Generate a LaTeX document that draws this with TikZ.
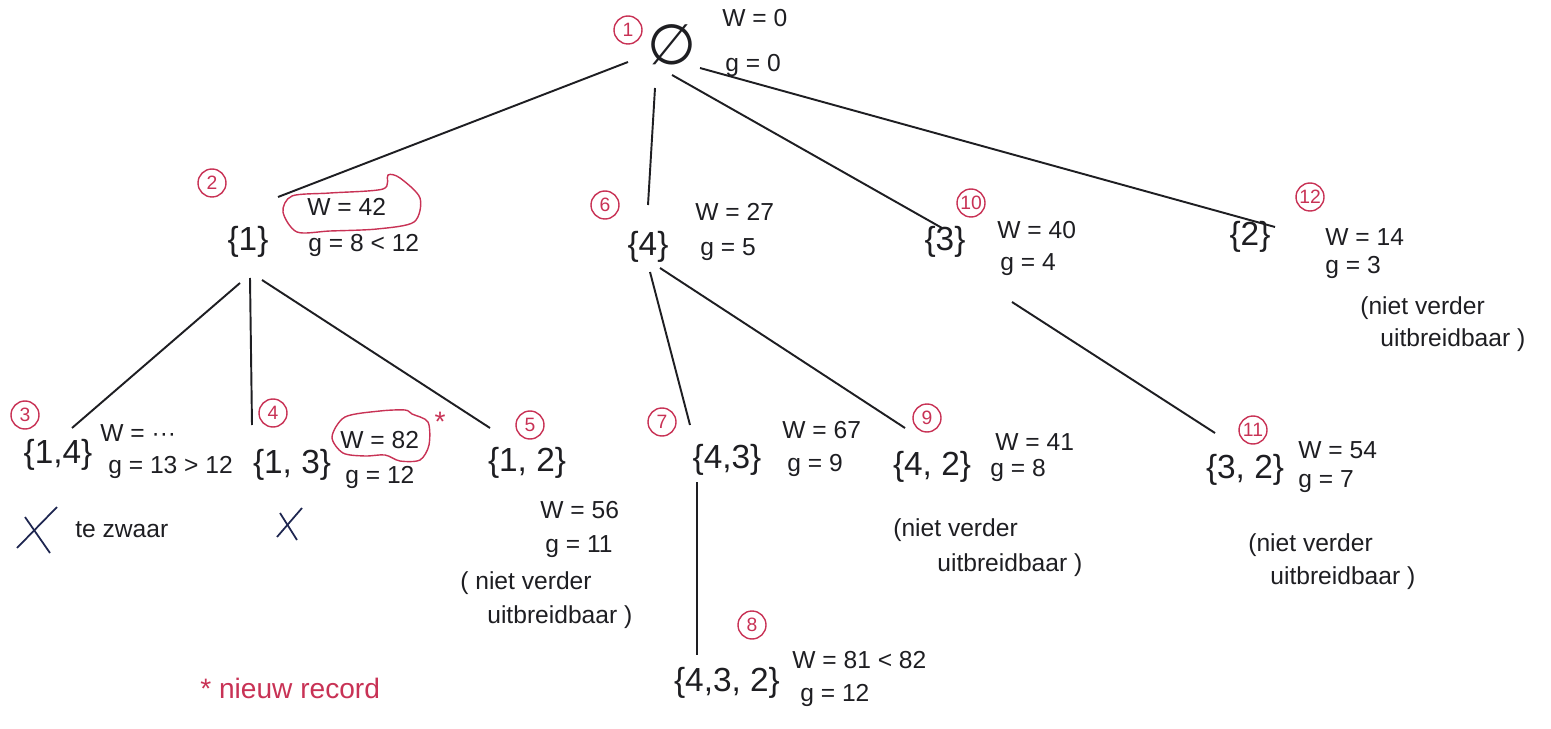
\documentclass[tikz,border=0pt]{standalone}
\usepackage{fontspec}
\setmainfont{Liberation Sans}
\newfontfamily\dejavu{DejaVu Sans}
\usetikzlibrary{calc}
\definecolor{ink}{RGB}{30,30,34}
\definecolor{redink}{RGB}{200,50,85}
\definecolor{blueink}{RGB}{30,38,80}
\tikzset{
  num/.style={circle, draw=redink, text=redink, line width=0.8pt, minimum size=0.56cm, inner sep=0pt, font=\fontsize{11}{11}\selectfont},
  setn/.style={text=ink, inner sep=1pt, font=\fontsize{19}{21}\selectfont},
  lab/.style={text=ink, inner sep=0pt, anchor=west, font=\fontsize{14}{16}\selectfont},
  note/.style={text=ink, inner sep=0pt, anchor=west, font=\fontsize{14}{16}\selectfont},
  conn/.style={draw=ink, line width=1.1pt},
  cloud/.style={draw=redink, line width=0.8pt},
  cross/.style={draw=blueink, line width=1pt}
}
\begin{document}
\begin{tikzpicture}[x=0.02cm, y=-0.02cm]
\useasboundingbox (0,0) rectangle (1551,729);
% node 1
\node[num] (c1) at (628,30) {1};
\node[setn, font=\dejavu\fontsize{32}{32}\selectfont] (s1) at (672,45) {∅};
\node[lab] (w1) at (722,18) {W = 0};
\node[lab] (g1) at (725,65) {g = 0};
% node 2
\node[num] (c2) at (212,183) {2};
\node[setn] (s2) at (248,242) {\{1\}};
\node[lab] (w2) at (307,207) {W = 42};
\node[lab] (g2) at (308,245) {g = 8 < 12};
% node 3
\node[num] (c3) at (25,415) {3};
\node[setn] (s3) at (58,455) {\{1,4\}};
\node[lab] (w3) at (100,433) {W = ···};
\node[lab] (g3) at (108,467) {g = 13 > 12};
\node[note] (t3) at (75,530) {te zwaar};
% node 4
\node[num] (c4) at (273,413) {4};
\node[setn] (s4) at (292,465) {\{1, 3\}};
\node[lab] (w4) at (340,440) {W = 82};
\node[lab] (g4) at (345,477) {g = 12};
\node[text=redink, font=\fontsize{16}{16}\selectfont, inner sep=0pt] (st4) at (440,422) {*};
% node 5
\node[num] (c5) at (530,425) {5};
\node[setn] (s5) at (527,463) {\{1, 2\}};
\node[lab] (w5) at (540,510) {W = 56};
\node[lab] (g5) at (545,547) {g = 11};
\node[note] (n5a) at (460,583) {( niet verder};
\node[note] (n5b) at (487,617) {uitbreidbaar )};
% node 6
\node[num] (c6) at (605,205) {6};
\node[setn] (s6) at (648,247) {\{4\}};
\node[lab] (w6) at (695,212) {W = 27};
\node[lab] (g6) at (700,250) {g = 5};
% node 7
\node[num] (c7) at (662,422) {7};
\node[setn] (s7) at (727,460) {\{4,3\}};
\node[lab] (w7) at (782,430) {W = 67};
\node[lab] (g7) at (787,465) {g = 9};
% node 8
\node[num] (c8) at (752,625) {8};
\node[setn] (s8) at (727,683) {\{4,3, 2\}};
\node[lab] (w8) at (792,660) {W = 81 < 82};
\node[lab] (g8) at (800,695) {g = 12};
% node 9
\node[num] (c9) at (927,418) {9};
\node[setn] (s9) at (932,467) {\{4, 2\}};
\node[lab] (w9) at (995,442) {W = 41};
\node[lab] (g9) at (990,470) {g = 8};
\node[note] (n9a) at (893,530) {(niet verder};
\node[note] (n9b) at (937,565) {uitbreidbaar )};
% node 10
\node[num] (c10) at (971,203) {10};
\node[setn] (s10) at (945,242) {\{3\}};
\node[lab] (w10) at (997,230) {W = 40};
\node[lab] (g10) at (1000,265) {g = 4};
% node 11
\node[num] (c11) at (1253,430) {11};
\node[setn] (s11) at (1245,470) {\{3, 2\}};
\node[lab] (w11) at (1298,450) {W = 54};
\node[lab] (g11) at (1298,482) {g = 7};
\node[note] (n11a) at (1248,545) {(niet verder};
\node[note] (n11b) at (1270,578) {uitbreidbaar )};
% node 12
\node[num] (c12) at (1310,197) {12};
\node[setn] (s12) at (1250,237) {\{2\}};
\node[lab] (w12) at (1325,237) {W = 14};
\node[lab] (g12) at (1325,267) {g = 3};
\node[note] (n12a) at (1360,308) {(niet verder};
\node[note] (n12b) at (1380,340) {uitbreidbaar )};
% legend
\node[text=redink, anchor=west, inner sep=0pt, font=\fontsize{16}{18}\selectfont] (leg) at (200,688) {* nieuw record};
% connectors
\draw[conn] ($(s1)+(-44,17)$) -- ($(s2)+(30,-45)$);
\draw[conn] ($(s1)+(-17,43)$) -- ($(s6)+(0,-42)$);
\draw[conn] ($(s1)+(0,30)$) -- ($(s10)+(-3,-14)$);
\draw[conn] ($(s1)+(28,23)$) -- ($(s12)+(25,-10)$);
\draw[conn] ($(s2)+(-8,41)$) -- ($(s3)+(14,-27)$);
\draw[conn] ($(s2)+(2,36)$) -- ($(s4)+(-40,-40)$);
\draw[conn] ($(s2)+(14,38)$) -- ($(s5)+(-37,-35)$);
\draw[conn] ($(s6)+(2,25)$) -- ($(s7)+(-37,-35)$);
\draw[conn] ($(s6)+(12,21)$) -- ($(s9)+(-27,-39)$);
\draw[conn] ($(s7)+(-30,22)$) -- ($(s8)+(-30,-28)$);
\draw[conn] ($(s10)+(67,60)$) -- ($(s11)+(-30,-37)$);
% clouds
\draw[cloud] plot[smooth cycle] coordinates {(283,212) (292,196) (330,193) (383,189) (388,175) (400,178) (420,198) (414,222) (377,229) (330,231) (297,232)};
\draw[cloud] plot[smooth cycle] coordinates {(332,437) (345,417) (380,411) (405,410) (412,414) (428,422) (429,445) (420,460) (400,461) (385,455) (365,456) (343,453)};
% crosses
\draw[cross] (57,507) -- (17,548);
\draw[cross] (25,517) -- (50,553);
\draw[cross] (302,508) -- (277,537);
\draw[cross] (280,513) -- (297,540);
\end{tikzpicture}
\end{document}
